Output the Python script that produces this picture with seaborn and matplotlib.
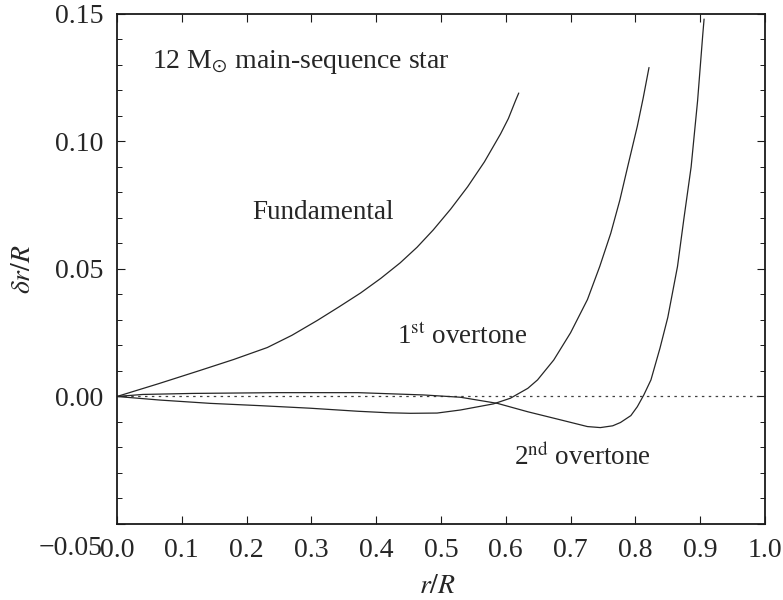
import matplotlib
matplotlib.use("Agg")
import matplotlib.pyplot as plt
import matplotlib.transforms as mtransforms
import seaborn as sns
from matplotlib.ticker import MultipleLocator

# Data
fund_x = [0.0, 0.064, 0.128, 0.18, 0.232, 0.27, 0.309, 0.343, 0.376, 0.407, 0.437,
          0.463, 0.488, 0.515, 0.541, 0.567, 0.592, 0.604, 0.615, 0.62]
fund_y = [0.0, 0.0050, 0.0102, 0.0145, 0.0192, 0.0240, 0.0298, 0.0352, 0.0406, 0.0463, 0.0524,
          0.0585, 0.0653, 0.0735, 0.0822, 0.0920, 0.1030, 0.1090, 0.1160, 0.1190]

ot1_x = [0.0, 0.066, 0.144, 0.221, 0.298, 0.372, 0.42, 0.453, 0.494, 0.530, 0.581, 0.607,
         0.634, 0.649, 0.674, 0.70, 0.726, 0.745, 0.762, 0.776, 0.788, 0.803, 0.812, 0.821]
ot1_y = [0.0, -0.0014, -0.0027, -0.0036, -0.0046, -0.0058, -0.0064, -0.0066, -0.0065, -0.0053,
         -0.0029, -0.0007, 0.0032, 0.0065, 0.0143, 0.0250, 0.0380, 0.0510, 0.0640, 0.0770,
         0.0900, 0.1060, 0.1170, 0.1290]

ot2_x = [0.0, 0.04, 0.117, 0.247, 0.372, 0.473, 0.530, 0.587, 0.634, 0.685, 0.726, 0.746,
         0.765, 0.777, 0.793, 0.803, 0.813, 0.824, 0.838, 0.850, 0.865, 0.875, 0.886, 0.896,
         0.904, 0.906]
ot2_y = [0.0, 0.0008, 0.0012, 0.0015, 0.0015, 0.0006, -0.0003, -0.0027, -0.0060, -0.0092,
         -0.0118, -0.0122, -0.0115, -0.0102, -0.0075, -0.0040, 0.0006, 0.0065, 0.0190, 0.0310,
         0.0510, 0.0700, 0.0900, 0.1160, 0.1420, 0.1480]

xticks = [0.0, 0.1, 0.2, 0.3, 0.4, 0.5, 0.6, 0.7, 0.8, 0.9, 1.0]
yticks = [-0.05, 0.00, 0.05, 0.10, 0.15]

sns.set_theme(style="ticks")
plt.rcParams['font.family'] = ['Liberation Serif', 'DejaVu Serif']
plt.rcParams['mathtext.fontset'] = 'stix'

fig = plt.figure(figsize=(7.83, 6.0), dpi=100)
ax = fig.add_axes([0.1494, 0.1267, 0.8276, 0.85])

ax.axhline(0, color='0.25', lw=0.9, ls=(0, (2, 3.5)), zorder=1)
for xs, ys in [(fund_x, fund_y), (ot1_x, ot1_y), (ot2_x, ot2_y)]:
    sns.lineplot(x=xs, y=ys, ax=ax, color='0.15', lw=0.9, sort=False, estimator=None)

ax.set_xlim(0, 1.0)
ax.set_ylim(-0.05, 0.15)
ax.set_xticks(xticks)
ax.set_yticks(yticks)
ax.set_xticklabels([f"{t:.1f}" for t in xticks])
ax.set_yticklabels([f"{t:.2f}".replace('-', '\u2212') for t in yticks])
ax.yaxis.set_minor_locator(MultipleLocator(0.01))
ax.tick_params(which='both', direction='in', top=True, right=True, labelsize=20, color='k')
ax.tick_params(which='major', length=6, width=0.8, pad=10)
ax.tick_params(which='minor', length=3.5, width=0.7)
for s in ax.spines.values():
    s.set_linewidth(1.3)
    s.set_color('k')

# shift the lowest y tick label down, as in the reference
lbl = ax.get_yticklabels()[0]
lbl.set_transform(lbl.get_transform() +
                  mtransforms.ScaledTranslation(0, -0.22, fig.dpi_scale_trans))

ax.set_xlabel(r'$r/R$', fontsize=20)
ax.set_ylabel(r'$\delta r/R$', fontsize=20)
ax.xaxis.set_label_coords(0.495, -0.1235)
ax.yaxis.set_label_coords(-0.145, 0.5)
ax.xaxis.label.set_va('center')
ax.yaxis.label.set_va('center')

ax.text(0.054, 0.131, r'12 M$_{\odot}$ main-sequence star', fontsize=20, va='center', ha='left')
ax.text(0.318, 0.0723, 'Fundamental', fontsize=19.5, va='center', ha='center')
ax.text(0.533, 0.0233, r'1$^{\mathrm{st}}$ overtone', fontsize=19.5, va='center', ha='center')
ax.text(0.719, -0.0237, r'2$^{\mathrm{nd}}$ overtone', fontsize=19.5, va='center', ha='center')

fig.savefig('out.png', dpi=100)
